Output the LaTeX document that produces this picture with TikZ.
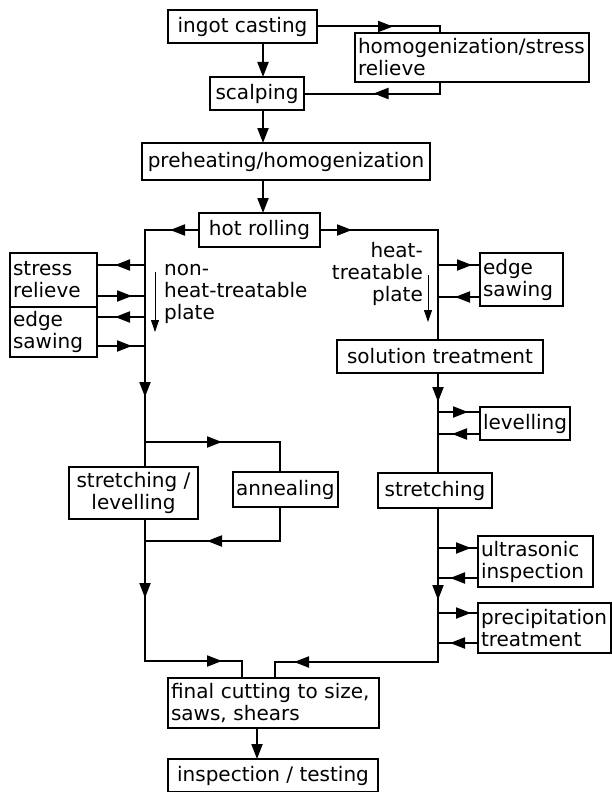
\documentclass[tikz,border=0pt]{standalone}
\usepackage{fontspec}
\newfontfamily\dinfont{DejaVu Sans}
\usetikzlibrary{arrows.meta,decorations.markings}

\begin{document}
\begin{tikzpicture}[x=1pt,y=-1pt,>={Triangle[length=15pt,width=11pt]},
        every node/.style={font=\dinfont\fontsize{20}{22}\selectfont},
        block/.style={draw,rectangle,line width=2pt,anchor=north west,inner sep=3pt,outer sep=0pt},
        lblock/.style={block,align=left},
        flow/.style={line width=2pt},
        arr/.style={postaction={decorate,decoration={markings,mark=at position #1 with {\arrow{>}}}}},
        pointer/.style={line width=0.9pt,-{Triangle[length=12pt,width=8pt]}},
        note/.style={inner sep=0pt}]
   \useasboundingbox (0,0) rectangle (611,792);
   % boxes
   \node[block,minimum width=149pt,minimum height=33pt] (ingot) at (168,10) {ingot casting};
   \node[lblock,text width=228pt,minimum height=49pt] (homog) at (355,33) {homogenization/stress\\relieve};
   \node[block,minimum width=94pt,minimum height=33pt] (scalping) at (210,77) {scalping};
   \node[block,minimum width=288pt,minimum height=37pt] (preheat) at (142,143) {preheating/homogenization};
   \node[block,minimum width=121pt,minimum height=34pt] (hotroll) at (199,213) {hot rolling};
   \node[lblock,text width=81pt,minimum height=54pt] (stress) at (10,253) {stress\\relieve};
   \node[lblock,text width=81pt,minimum height=50pt] (edgeL) at (10,307) {edge\\sawing};
   \node[lblock,text width=77pt,minimum height=53pt] (edgeR) at (480,253) {edge\\sawing};
   \node[block,minimum width=206pt,minimum height=33pt] (solution) at (337,340) {solution treatment};
   \node[block,minimum width=90pt,minimum height=33pt] (levelling) at (480,407) {levelling};
   \node[block,align=center,minimum width=129pt,minimum height=52pt] (stretchL) at (69,467) {stretching /\\levelling};
   \node[block,minimum width=104pt,minimum height=35pt] (anneal) at (233,472) {annealing};
   \node[block,minimum width=114pt,minimum height=35pt] (stretchR) at (378,473) {stretching};
   \node[lblock,text width=109pt,minimum height=51pt] (ultra) at (478,536) {ultrasonic\\inspection};
   \node[lblock,text width=127pt,minimum height=50pt] (precip) at (478,603) {precipitation\\treatment};
   \node[lblock,text width=205pt,minimum height=50pt] (final) at (168,678) {final cutting to size,\\saws, shears};
   \node[block,minimum width=210pt,minimum height=33pt] (inspect) at (168,759) {inspection / testing};
   % plate notes
   \node[note,anchor=north west,align=left] (nonheat) at (164,264) {non-\\heat-treatable\\plate};
   \node[note,anchor=north east,align=right] (heatnote) at (423,242) {heat-\\treatable\\plate};
   \draw[pointer] (nonheat.north west) ++(-9,8) -- ++(0,60);
   \draw[pointer] (heatnote.north east) ++(5,33) -- ++(0,47);
   % columns
   \coordinate (cl) at (145,0);
   \coordinate (cm) at (263,0);
   \coordinate (cr) at (438,0);
   \coordinate (ch) at (440,0);
   \coordinate (ca) at (280,0);
   \coordinate (cfl) at (242,0);
   \coordinate (cfr) at (275,0);
   \coordinate (cfm) at (257,0);
   % top
   \draw[flow,arr=76pt] (ingot.east) -- (ingot.east -| ch) -- (ch |- homog.north);
   \draw[flow,arr=78pt] (ch |- homog.south) -- (ch |- scalping.east) -- (scalping.east);
   \draw[flow,->] (ingot.south -| cm) -- (scalping.north -| cm);
   \draw[flow,->] (scalping.south -| cm) -- (preheat.north -| cm);
   \draw[flow,->] (preheat.south -| cm) -- (hotroll.north -| cm);
   % non-heat-treatable plate
   \draw[flow,arr=29pt,arr=221pt] (hotroll.west) -- (hotroll.west -| cl) -- (cl |- 0,442) coordinate (jl);
   \draw[flow] (jl) -- (stretchL.north -| cl);
   \draw[flow,arr=77pt] (jl) -- (jl -| ca) -- (anneal.north -| ca);
   \draw[flow,arr=107pt] (anneal.south -| ca) -- (ca |- 0,541) -- (cl |- 0,541);
   \draw[flow,arr=79pt,arr=219pt] (stretchL.south -| cl) -- (cl |- 0,661) -- (cfl |- 0,661) -- (final.north -| cfl);
   \draw[flow,arr=30pt] (cl |- 0,265) -- (stress.east |- 0,265);
   \draw[flow,arr=35pt] (stress.east |- 0,296) -- (cl |- 0,296);
   \draw[flow,arr=30pt] (cl |- 0,317) -- (edgeL.east |- 0,317);
   \draw[flow,arr=35pt] (edgeL.east |- 0,346) -- (cl |- 0,346);
   % heat-treatable plate
   \draw[flow,arr=32pt] (hotroll.east) -- (hotroll.east -| cr) -- (solution.north -| cr);
   \draw[flow,arr=34pt] (cr |- 0,265) -- (edgeR.west |- 0,265);
   \draw[flow,arr=25pt] (edgeR.west |- 0,297) -- (cr |- 0,297);
   \draw[flow,arr=29pt] (solution.south -| cr) -- (stretchR.north -| cr);
   \draw[flow,arr=30pt] (cr |- 0,412) -- (levelling.west |- 0,412);
   \draw[flow,arr=28pt] (levelling.west |- 0,434) -- (cr |- 0,434);
   \draw[flow,arr=92pt,arr=298pt] (stretchR.south -| cr) -- (cr |- 0,662) -- (cfr |- 0,662) -- (final.north -| cfr);
   \draw[flow,arr=33pt] (cr |- 0,548) -- (ultra.west |- 0,548);
   \draw[flow,arr=28pt] (ultra.west |- 0,578) -- (cr |- 0,578);
   \draw[flow,arr=33pt] (cr |- 0,613) -- (precip.west |- 0,613);
   \draw[flow,arr=28pt] (precip.west |- 0,643) -- (cr |- 0,643);
   % bottom
   \draw[flow,->] (final.south -| cfm) -- (inspect.north -| cfm);
\end{tikzpicture}
\end{document}
